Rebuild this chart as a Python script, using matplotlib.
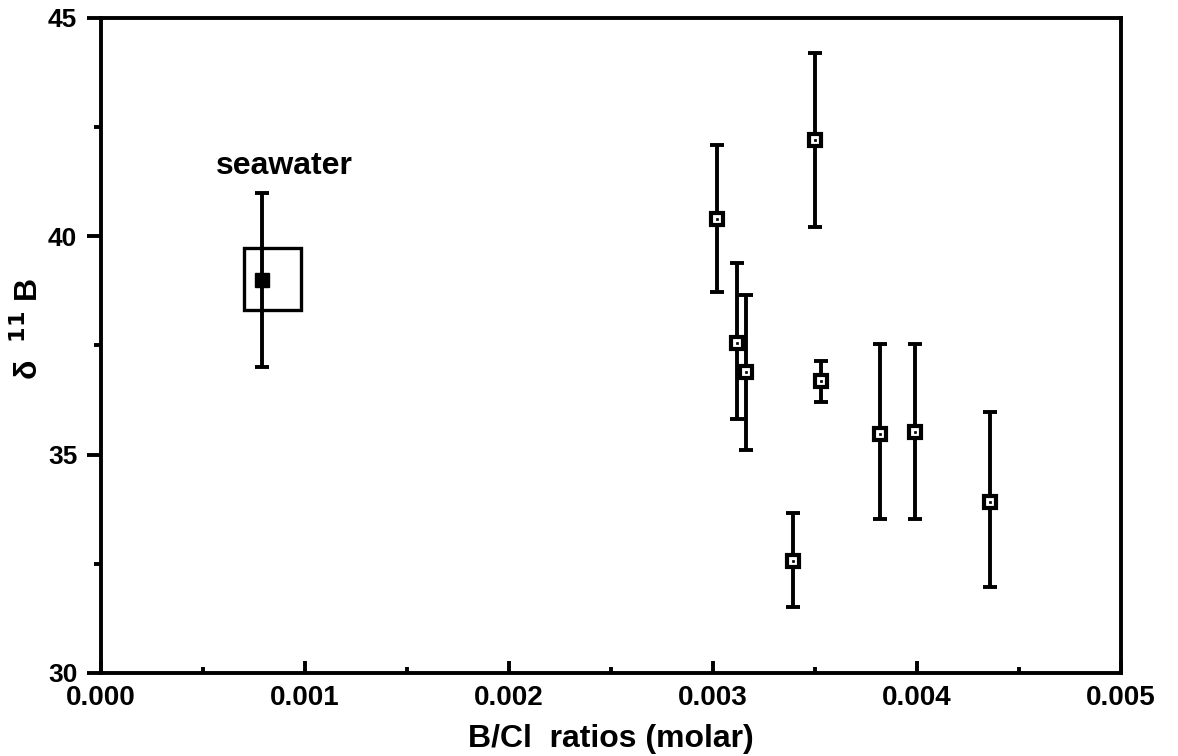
import matplotlib
matplotlib.use("Agg")
import matplotlib.pyplot as plt
from matplotlib.patches import Rectangle
from matplotlib.ticker import MultipleLocator, FormatStrFormatter
import numpy as np

plt.rcParams['font.family'] = ['Liberation Sans', 'DejaVu Sans']
plt.rcParams['font.weight'] = 'bold'

# Samples: B/Cl ratio (molar), d11B, lower and upper end of error bar
bcl = [0.00302, 0.00350, 0.00312, 0.00316, 0.00353, 0.00382, 0.00399, 0.00436, 0.00339]
d11b = [40.40, 42.20, 37.56, 36.90, 36.68, 35.47, 35.52, 33.92, 32.56]
d11b_lo = [38.72, 40.22, 35.82, 35.11, 36.20, 33.53, 33.53, 31.98, 31.50]
d11b_hi = [42.08, 44.20, 39.38, 38.66, 37.15, 37.53, 37.53, 35.97, 33.66]

# Seawater value, its error bar and the range box
sw_bcl = 0.00079
sw_d11b = 39.0
sw_lo, sw_hi = 37.0, 41.0
sw_box_x = (0.00070, 0.00098)
sw_box_y = (38.32, 39.74)

fig = plt.figure(figsize=(11.78, 7.56), dpi=100)
ax = fig.add_axes([0.0857, 0.1098, 0.8659, 0.8664])

bcl = np.array(bcl)
d11b = np.array(d11b)
yerr = [d11b - np.array(d11b_lo), np.array(d11b_hi) - d11b]

lw = 2.8
ax.errorbar(bcl, d11b, yerr=yerr, fmt='none', ecolor='black', elinewidth=lw,
            capsize=5, capthick=lw, zorder=2)
ax.plot(bcl, d11b, 's', ms=8, mfc='white', mec='black', mew=3, zorder=3)
ax.plot(bcl, d11b, 's', ms=1.8, mfc='black', mec='black', mew=0.5, zorder=4)

# seawater
ax.errorbar([sw_bcl], [sw_d11b], yerr=[[sw_d11b - sw_lo], [sw_hi - sw_d11b]], fmt='none',
            ecolor='black', elinewidth=lw, capsize=5, capthick=lw, zorder=2)
ax.add_patch(Rectangle((sw_box_x[0], sw_box_y[0]), sw_box_x[1] - sw_box_x[0],
                       sw_box_y[1] - sw_box_y[0], fill=False, ec='black', lw=2.4, zorder=2))
ax.plot([sw_bcl], [sw_d11b], 's', ms=10.5, color='black', zorder=3)
ax.text(sw_bcl + 0.00011, 41.6, 'seawater', fontsize=23, fontweight='bold',
        ha='center', va='center')

ax.set_xlim(0, 0.005)
ax.set_ylim(30, 45)
ax.xaxis.set_major_locator(MultipleLocator(0.001))
ax.xaxis.set_minor_locator(MultipleLocator(0.0005))
ax.xaxis.set_major_formatter(FormatStrFormatter('%.3f'))
ax.yaxis.set_major_locator(MultipleLocator(5))
ax.yaxis.set_minor_locator(MultipleLocator(2.5))

for side in ['left', 'bottom', 'top', 'right']:
    ax.spines[side].set_linewidth(2.8)

ax.tick_params(axis='x', which='major', direction='in', length=9, width=2.8,
               labelsize=20, pad=9)
ax.tick_params(axis='x', which='minor', direction='in', length=4.5, width=2.8)
ax.tick_params(axis='y', which='major', direction='out', length=10, width=2.8,
               labelsize=19, pad=7)
ax.tick_params(axis='y', which='minor', direction='out', length=5, width=2.8)

for lab in ax.get_xticklabels() + ax.get_yticklabels():
    lab.set_fontweight('bold')

ax.set_xlabel('B/Cl  ratios (molar)', fontsize=23, fontweight='bold', labelpad=9)
ax.set_ylabel(r'δ  $\mathbf{^{11}}$ B', fontsize=23, fontweight='bold')
ax.yaxis.set_label_coords(-0.055, 0.525)

fig.savefig('out.png', dpi=100)
